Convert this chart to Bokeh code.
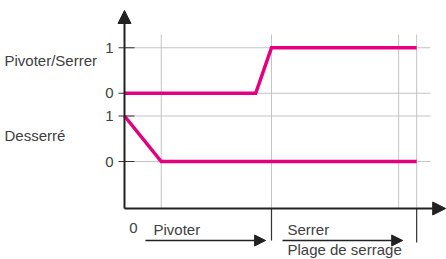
from bokeh.plotting import figure
from bokeh.models import Range1d, Arrow, NormalHead
from bokeh.core.properties import value
from bokeh.embed import file_html
from bokeh.resources import INLINE

# ---- data ----
signal_names = ["Pivoter/Serrer", "Desserré"]
time_top = [0, 3.57, 4.0, 7.95]
state_top = [0, 0, 1, 1]
time_bot = [0, 1.0, 7.95]
state_bot = [1, 0, 0]
top_offset = 1.5
tick_states = [1, 0, 1, 0]
tick_offsets = [1.5, 1.5, 0, 0]
tick_labels = ["1", "0", "1", "0"]
grid_times = [1.0, 4.0, 7.46, 7.95]
phase_labels = ["Pivoter", "Serrer", "Plage de serrage"]
phase_bounds = [0.57, 3.84, 4.30, 7.57]

FONT = value("Liberation Sans")
TXT = "#404040"
AX = "#222222"
GRID = "#c4c4c4"
PINK = "#E6007E"

p = figure(width=446, height=259, output_backend="svg", toolbar_location=None,
           x_axis_type=None, y_axis_type=None,
           x_range=Range1d(-3.374, 8.762), y_range=Range1d(-2.1538, 3.5385),
           min_border=0, outline_line_color=None)
p.xgrid.visible = False
p.ygrid.visible = False

levels = [s + o for s, o in zip(tick_states, tick_offsets)]
x_axis_y = -1.033
grid_right = 8.327
grid_top = 2.791

# horizontal grid lines
p.segment(x0=[0] * len(levels), y0=levels, x1=[grid_right] * len(levels), y1=levels,
          line_color=GRID, line_width=1)
# vertical grid lines
p.segment(x0=grid_times, y0=[x_axis_y] * len(grid_times), x1=grid_times,
          y1=[grid_top] * len(grid_times), line_color=GRID, line_width=1)

# y ticks
p.segment(x0=[-0.163] * len(levels), y0=levels, x1=[0.272] * len(levels), y1=levels,
          line_color="#333333", line_width=1.2)
p.text(x=[-0.30] * len(levels), y=levels, text=tick_labels, text_font=FONT,
       text_font_size="15px", text_color=TXT, text_align="right", text_baseline="middle")

# signal names
p.text(x=[-3.265, -3.265], y=[2.21, 0.57], text=signal_names, text_font=FONT,
       text_font_size="15px", text_color=TXT, text_align="left", text_baseline="middle")

# signals
p.line(time_top, [s + top_offset for s in state_top], line_color=PINK, line_width=3.5,
       line_join="miter")
p.line(time_bot, state_bot, line_color=PINK, line_width=3.5, line_join="miter")

# axes with arrows
p.add_layout(Arrow(x_start=0, y_start=x_axis_y, x_end=0, y_end=3.319,
                   line_color=AX, line_width=2,
                   end=NormalHead(size=13, fill_color=AX, line_color=AX, line_width=1)))
p.add_layout(Arrow(x_start=0, y_start=x_axis_y, x_end=8.74, y_end=x_axis_y,
                   line_color=AX, line_width=2,
                   end=NormalHead(size=13, fill_color=AX, line_color=AX, line_width=1)))

# marks below axis
p.segment(x0=[grid_times[1], grid_times[3]], y0=[x_axis_y, x_axis_y],
          x1=[grid_times[1], grid_times[3]], y1=[-1.736, -1.78],
          line_color="#333333", line_width=1.2)

# phase arrows
for xs, xe in [(phase_bounds[0], phase_bounds[1]), (phase_bounds[2], phase_bounds[3])]:
    p.add_layout(Arrow(x_start=xs, y_start=-1.736, x_end=xe, y_end=-1.736,
                       line_color=AX, line_width=1.5,
                       end=NormalHead(size=11, fill_color=AX, line_color=AX, line_width=1)))

p.text(x=[0.245], y=[-1.47], text=["0"], text_font=FONT, text_font_size="15px",
       text_color=TXT, text_align="center", text_baseline="middle")
p.text(x=[0.79, 4.435, 4.435], y=[-1.495, -1.495, -1.945], text=phase_labels, text_font=FONT,
       text_font_size="15px", text_color=TXT, text_align="left", text_baseline="middle")

open("out.html", "w").write(file_html(p, INLINE))
